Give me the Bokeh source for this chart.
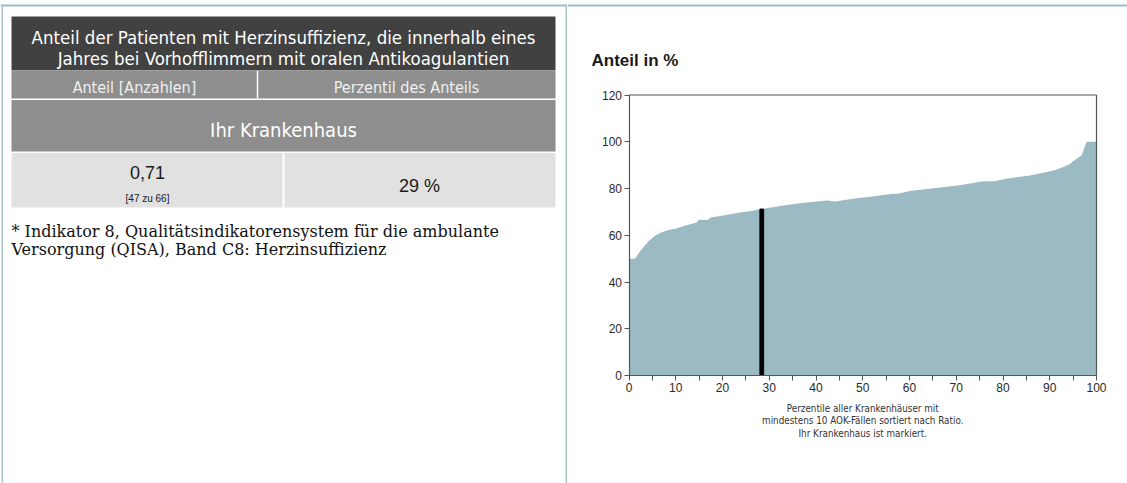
from bokeh.plotting import figure
from bokeh.models import Range1d, FixedTicker, Span
from bokeh.layouts import row
from bokeh.embed import file_html
from bokeh.resources import INLINE
from bokeh.core.properties import value

# ---- data ----
percentile = [0, 1.3, 2.5, 4.2, 5.7, 7.0, 8.6, 10.1, 12.3, 14.5, 14.9, 16.8, 17.5,
              20.5, 23.4, 26.4, 28.4, 30, 33.8, 37, 41.2, 42.5, 44.1, 48.6, 52,
              56.0, 57.4, 60.4, 63.3, 67, 70.7, 73.6, 75.5, 78.1, 81.0, 85.5,
              89.1, 91, 92.8, 94.3, 95.0, 96.0, 96.8, 97.9, 100]
anteil = [50, 50, 53.5, 57.5, 60, 61.3, 62.4, 62.9, 64.3, 65.5, 66.6, 66.5, 67.6,
          68.6, 69.6, 70.5, 71.2, 71.8, 72.9, 73.8, 74.7, 74.9, 74.4, 75.8, 76.6,
          77.6, 77.8, 79, 79.7, 80.5, 81.4, 82.3, 83, 83.1, 84.3, 85.5,
          86.9, 87.8, 89.1, 90.5, 91.7, 93, 94.1, 100, 100]
marker_pct = [28.4]
marker_val = [71.2]
y_ticks = [0, 20, 40, 60, 80, 100, 120]
x_ticks = [0, 10, 20, 30, 40, 50, 60, 70, 80, 90, 100]
x_minor = [5, 15, 25, 35, 45, 55, 65, 75, 85, 95]

title_lines = ["Anteil der Patienten mit Herzinsuffizienz, die innerhalb eines",
               "Jahres bei Vorhofflimmern mit oralen Antikoagulantien"]
header_cells = ["Anteil [Anzahlen]", "Perzentil des Anteils"]
row_label = "Ihr Krankenhaus"
ratio_text = "0,71"
count_text = "[47 zu 66]"
perc_text = "29 %"
footnote = ["* Indikator 8, Qualitätsindikatorensystem für die ambulante",
            "Versorgung (QISA), Band C8: Herzinsuffizienz"]
chart_title = "Anteil in %"
caption = ["Perzentile aller Krankenhäuser mit",
           "mindestens 10 AOK-Fällen sortiert nach Ratio.",
           "Ihr Krankenhaus ist markiert."]

COND = "'Liberation Sans Narrow', 'DejaVu Sans Condensed', 'Roboto Condensed', sans-serif"
SANS = "'Liberation Sans', Arial, sans-serif"
SERIF = "'DejaVu Serif', 'Liberation Serif', serif"
LINE = "#9ebbc3"
BORDER = "#a9c3ca"

W, H = 1127, 483
LEFT_W = 567

# ---- left table (pixel coordinates) ----
L = figure(width=LEFT_W, height=H, x_range=Range1d(0, LEFT_W), y_range=Range1d(H, 0),
           x_axis_type=None, y_axis_type=None, toolbar_location=None,
           min_border=0, output_backend="svg", outline_line_color=None)
L.grid.visible = False
L.quad(left=[0], right=[LEFT_W], top=[4], bottom=[6], color=LINE, line_color=None)
L.quad(left=[1], right=[2.5], top=[5], bottom=[H], color=BORDER, line_color=None)
L.quad(left=[565], right=[567], top=[5], bottom=[H], color=BORDER, line_color=None)
# title bar
L.quad(left=[11], right=[555], top=[16], bottom=[70], color="#414141", line_color=None)
# header
L.quad(left=[11], right=[555], top=[70.5], bottom=[98], color="#8e8e8e", line_color=None)
L.segment(x0=[257], y0=[70.5], x1=[257], y1=[98], line_color="white", line_width=1.5)
# row label
L.quad(left=[11], right=[555], top=[99.5], bottom=[151], color="#8e8e8e", line_color=None)
# values
L.quad(left=[11], right=[555], top=[152.5], bottom=[207], color="#e1e1e1", line_color=None)
L.segment(x0=[283], y0=[152.5], x1=[283], y1=[207], line_color="white", line_width=2)

L.text(x=[283, 283], y=[37, 58], text=title_lines, text_color="white",
       text_font=value(COND), text_font_size="18.5px",
       text_align="center", text_baseline="middle")
L.text(x=[134, 406], y=[87, 87], text=header_cells, text_color="#f0f0f0",
       text_font=value(COND), text_font_size="16px",
       text_align="center", text_baseline="middle")
L.text(x=[283], y=[129], text=[row_label], text_color="white",
       text_font=value(COND), text_font_size="20px",
       text_align="center", text_baseline="middle")
L.text(x=[147], y=[172], text=[ratio_text], text_color="#1a1a1a",
       text_font=value(SANS), text_font_size="18px",
       text_align="center", text_baseline="middle")
L.text(x=[147], y=[198], text=[count_text], text_color="#1a1a1a",
       text_font=value(SANS), text_font_size="10px",
       text_align="center", text_baseline="middle")
L.text(x=[419], y=[185], text=[perc_text], text_color="#1a1a1a",
       text_font=value(SANS), text_font_size="18px",
       text_align="center", text_baseline="middle")
L.text(x=[11, 11], y=[231, 249], text=footnote, text_color="#111111",
       text_font=value(SERIF), text_font_size="16px",
       text_align="left", text_baseline="middle")

# ---- right chart ----
RW = W - LEFT_W
# frame geometry of the plotted box in page pixels
X0_PX, X100_PX = 628.5, 1096.0
Y0_PX, Y120_PX = 375.0, 94.5
xs = (X100_PX - X0_PX) / 100.0
ys = (Y0_PX - Y120_PX) / 120.0
x_start = (LEFT_W - X0_PX) / xs
x_end = 100 + (W - X100_PX) / xs
y_end = 120 + Y120_PX / ys
y_start = -(H - Y0_PX) / ys

p = figure(width=RW, height=H, x_range=Range1d(x_start, x_end),
           y_range=Range1d(y_start, y_end), toolbar_location=None,
           output_backend="svg", min_border=0, outline_line_color=None)
p.grid.visible = False

p.add_layout(Span(location=y_end - 5 / ys, dimension="width", line_color=LINE, line_width=2))

p.varea(x=percentile, y1=[0] * len(percentile), y2=anteil, fill_color="#9bbac3")
p.vbar(x=marker_pct, top=marker_val, bottom=0, width=0.8, color="black")

# box top and right side
p.segment(x0=[x_ticks[0], x_ticks[-1]], y0=[y_ticks[-1], y_ticks[0]],
          x1=[x_ticks[-1], x_ticks[-1]], y1=[y_ticks[-1], y_ticks[-1]],
          line_color="#555555", line_width=1.2)

p.yaxis.ticker = FixedTicker(ticks=y_ticks)
p.xaxis.ticker = FixedTicker(ticks=x_ticks, minor_ticks=x_minor)
p.yaxis.fixed_location = 0
p.xaxis.fixed_location = 0
p.yaxis.bounds = (y_ticks[0], y_ticks[-1])
p.xaxis.bounds = (x_ticks[0], x_ticks[-1])
for ax in (p.xaxis[0], p.yaxis[0]):
    ax.axis_line_color = "#555555"
    ax.axis_line_width = 1.2
    ax.major_tick_line_color = "#555555"
    ax.minor_tick_line_color = "#555555"
    ax.major_tick_out = 5
    ax.major_tick_in = 0
    ax.minor_tick_out = 5
    ax.minor_tick_in = 0
    ax.major_label_text_font = SANS
    ax.major_label_text_font_size = "12px"
    ax.major_label_text_color = "#2a2a2a"
    ax.major_label_standoff = 2

p.text(x=[(591 - X0_PX) / xs], y=[120 + (Y120_PX - 60) / ys], text=[chart_title],
       text_font=value(SANS), text_font_size="17px", text_font_style="bold",
       text_color="#1a1a1a", text_baseline="middle", text_align="left")
cap_y = [-(408 - Y0_PX) / ys, -(420 - Y0_PX) / ys, -(433 - Y0_PX) / ys]
p.text(x=[50] * 3, y=cap_y, text=caption, text_font=value(COND), text_font_size="9.8px",
       text_color="#333333", text_align="center", text_baseline="middle")

layout = row(L, p, spacing=0)
open("out.html", "w").write(file_html(layout, INLINE))
